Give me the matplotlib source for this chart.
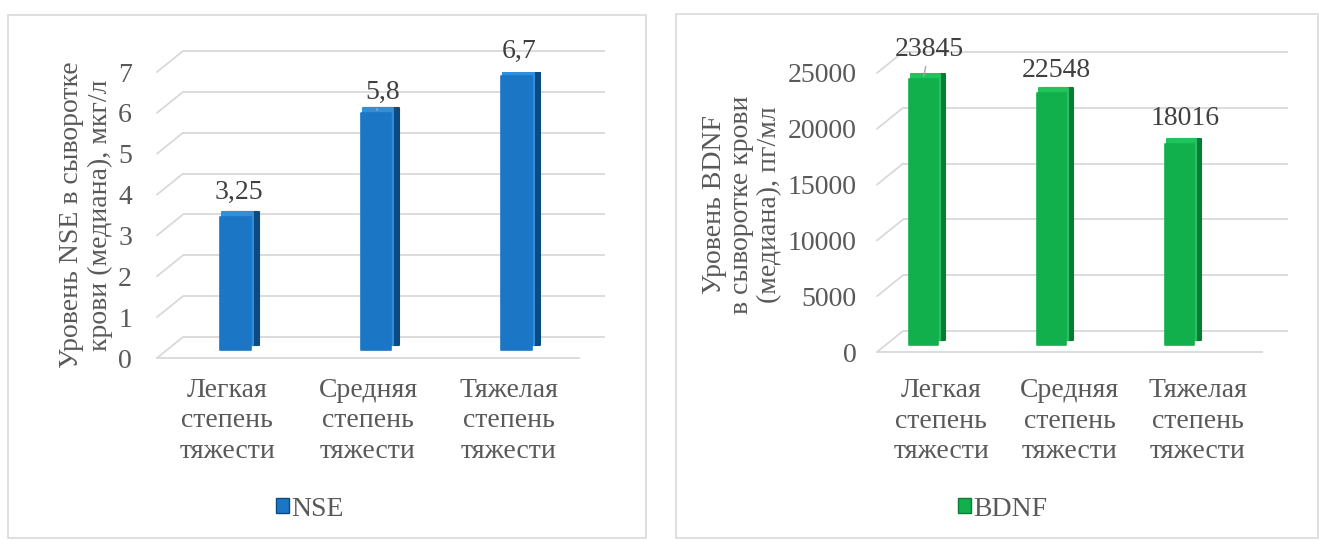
import matplotlib
matplotlib.use('Agg')
import matplotlib.pyplot as plt
from matplotlib import font_manager
from matplotlib.transforms import ScaledTranslation
from matplotlib.patches import Patch, ConnectionPatch, Rectangle

_names = {f.name for f in font_manager.fontManager.ttflist}
_serif = [n for n in ['Liberation Serif', 'Times New Roman', 'Tinos', 'DejaVu Serif'] if n in _names]
plt.rcParams['font.family'] = _serif + ['DejaVu Serif']

# ---------------- data ----------------
categories = ['Легкая\nстепень\nтяжести', 'Средняя\nстепень\nтяжести', 'Тяжелая\nстепень\nтяжести']

nse_values = [3.25, 5.8, 6.7]
nse_labels = ['3,25', '5,8', '6,7']
nse_ticks = [0, 1, 2, 3, 4, 5, 6, 7]
nse_ylabel = 'Уровень NSE в сыворотке\nкрови (медиана), мкг/л'
nse_name = 'NSE'

bdnf_values = [23845, 22548, 18016]
bdnf_labels = ['23845', '22548', '18016']
bdnf_ticks = [0, 5000, 10000, 15000, 20000, 25000]
bdnf_ylabel = 'Уровень BDNF\nв сыворотке крови\n(медиана), пг/мл'
bdnf_name = 'BDNF'

# ---------------- figure ----------------
W, H, DPI = 1319, 540, 100
fig = plt.figure(figsize=(W / DPI, H / DPI), dpi=DPI)
fig.patch.set_facecolor('white')

GRID = '#d9d9d9'
TXT = '#595959'
LBL = '#404040'
FS = 20


def px_axes(x0, x1, y_top, y_bot):
    return fig.add_axes([x0 / W, 1 - y_bot / H, (x1 - x0) / W, (y_bot - y_top) / H])


def shift(ax, dx, dy):
    return ax.transData + ScaledTranslation(dx / DPI, dy / DPI, fig.dpi_scale_trans)


def border(x0, y0, x1, y1):
    fig.add_artist(Rectangle((x0 / W, 1 - y1 / H), (x1 - x0) / W, (y1 - y0) / H,
                             transform=fig.transFigure, fill=False,
                             ec=GRID, lw=1.2))


def panel(ax, values, labels, ticks, top_val, face, side, cap, name,
          bar_w, bar_dx, bar_dy, side_px, lab_offsets, leaders, ytick_pad, xtick_pad,
          legend_xy):
    n = len(values)
    x = list(range(n))
    back = shift(ax, 26, 21)
    # back wall gridlines + diagonal side lines
    for t in ticks:
        ax.plot([-0.5, n - 0.5], [t, t], color=GRID, lw=1.3, transform=back,
                clip_on=False, zorder=1, solid_capstyle='butt')
        con = ConnectionPatch(xyA=(-0.5, t), coordsA=ax.transData,
                              xyB=(-0.5, t), coordsB=back,
                              color=GRID, lw=1.3, zorder=1)
        ax.add_artist(con)
    # front floor line
    ax.plot([-0.5, n - 0.5], [0, 0], color=GRID, lw=1.3, clip_on=False, zorder=1)

    # bars: back (side colour), cap, front face
    bt = shift(ax, bar_dx, bar_dy)
    ax.bar(x, values, width=bar_w, color=side, ec=side, lw=1.5, joinstyle='round',
           transform=shift(ax, bar_dx + side_px, bar_dy + 5), zorder=3)
    ax.bar(x, values, width=bar_w, color=cap, ec=cap, lw=1.5, joinstyle='round',
           transform=shift(ax, bar_dx + 2, bar_dy + 5), zorder=4)
    ax.bar(x, values, width=bar_w, color=face, ec=face, lw=1.2, joinstyle='round',
           transform=bt, zorder=5)

    # data labels
    for xi, v, lab, off, lead in zip(x, values, labels, lab_offsets, leaders):
        kw = {}
        if lead:
            kw['arrowprops'] = dict(arrowstyle='-', color='#a6a6a6', lw=1.0,
                                    shrinkA=1, shrinkB=2)
        ax.annotate(lab, xy=(xi, v), xycoords=bt, xytext=off,
                    textcoords='offset pixels', ha='center', va='center',
                    fontsize=FS, color=LBL, zorder=6, annotation_clip=False, **kw)

    ax.set_xlim(-0.5, n - 0.5)
    ax.set_ylim(0, top_val)
    ax.set_yticks(ticks)
    ax.set_yticklabels([str(t) for t in ticks])
    ax.set_xticks(x)
    ax.set_xticklabels(categories, linespacing=1.28)
    ax.tick_params(axis='y', length=0, pad=ytick_pad, labelsize=FS, labelcolor=TXT)
    ax.tick_params(axis='x', length=0, pad=xtick_pad, labelsize=FS, labelcolor=TXT)
    for s in ax.spines.values():
        s.set_visible(False)
    ax.patch.set_alpha(0)

    handle = Patch(facecolor=face, edgecolor=side, lw=1)
    ax.legend(handles=[handle], labels=[name], loc='center',
              bbox_to_anchor=(legend_xy[0] / W, 1 - legend_xy[1] / H),
              bbox_transform=fig.transFigure, frameon=False,
              fontsize=FS, labelcolor=TXT, handlelength=0.45, handleheight=0.45,
              handletextpad=0.1, borderpad=0)


# borders
border(8, 15, 646, 538)
border(676, 14, 1318, 538)

# left panel
axL = px_axes(157, 579, 72, 358)
panel(axL, nse_values, nse_labels, nse_ticks, 7,
      face='#1b76c6', side='#0c4a82', cap='#2e8fdc', name=nse_name,
      bar_w=0.22, bar_dx=8, bar_dy=8, side_px=8,
      lab_offsets=[(4, 25), (7, 21), (2, 25)], leaders=[False, True, False],
      ytick_pad=18, xtick_pad=14.5, legend_xy=(310, 509))
fig.text(86 / W, 1 - 215 / H, nse_ylabel, rotation=90, ha='center', va='center',
         fontsize=FS, color=TXT, linespacing=1.2)

# right panel
axR = px_axes(877, 1262, 73, 352)
panel(axR, bdnf_values, bdnf_labels, bdnf_ticks, 25000,
      face='#12b04c', side='#0a7a35', cap='#22c25c', name=bdnf_name,
      bar_w=0.225, bar_dx=-18, bar_dy=7, side_px=7,
      lab_offsets=[(6, 29), (5, 23), (5, 25)], leaders=[True, False, False],
      ytick_pad=14.5, xtick_pad=19, legend_xy=(1003, 509))
fig.text(742 / W, 1 - 205 / H, bdnf_ylabel, rotation=90, ha='center', va='center',
         fontsize=FS, color=TXT, linespacing=1.15)

fig.savefig('out.png', dpi=DPI, facecolor='white')
